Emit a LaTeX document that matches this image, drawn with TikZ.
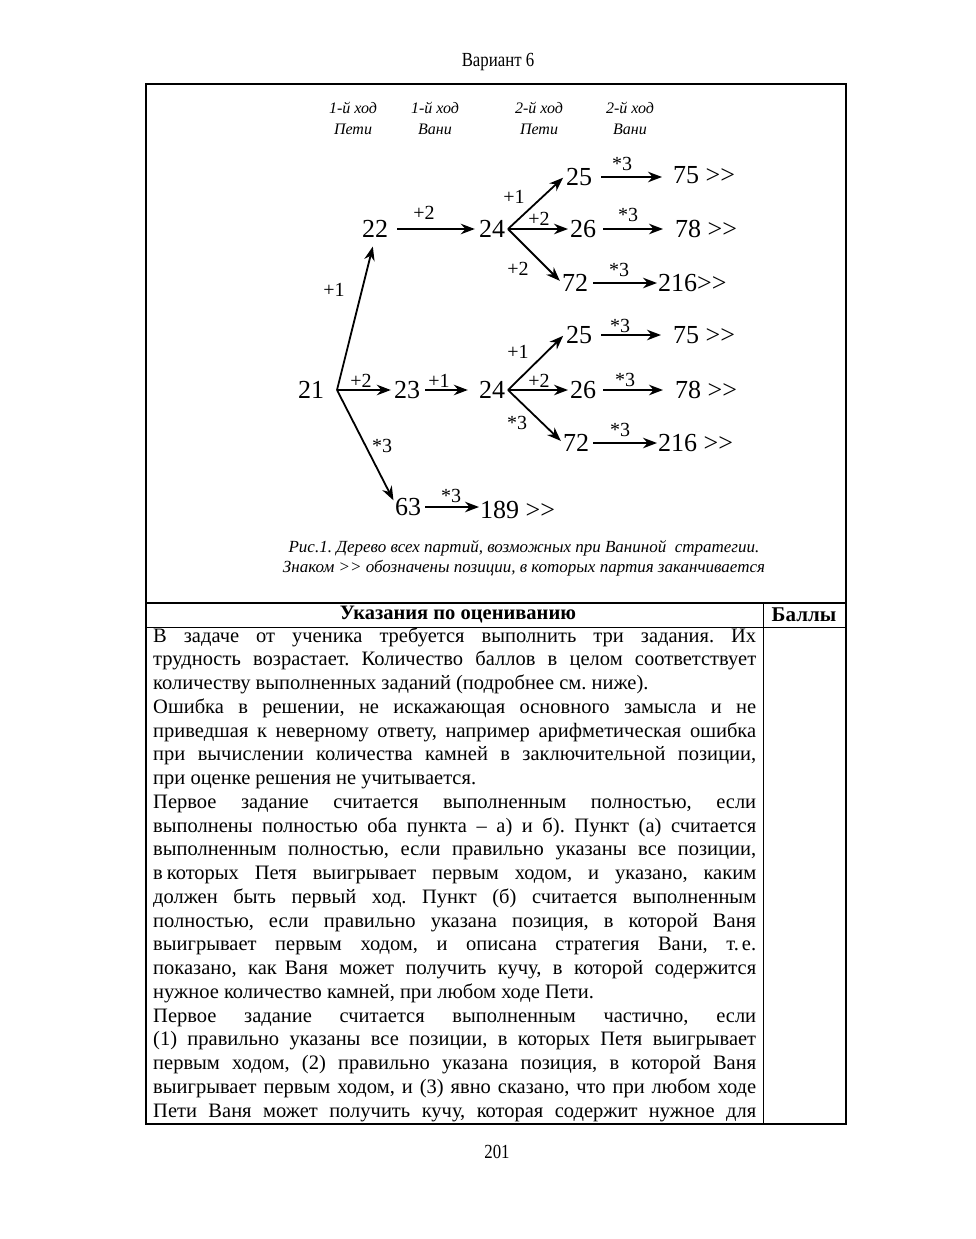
\documentclass[tikz,border=0pt]{standalone}
\usepackage{fontspec}
\setmainfont{Liberation Serif}
\newfontfamily\cond[FakeStretch=0.84]{Liberation Serif}
\usetikzlibrary{arrows.meta}
\newcommand\jline[1]{\makebox[603pt][s]{#1}}
\newcommand\finmark{>\kern0pt>}
\frenchspacing
\begin{document}
\begin{tikzpicture}[x=1pt,y=-1pt,
 num/.style={inner sep=0pt, font=\fontsize{26}{26}\selectfont},
 numw/.style={num, anchor=west},
 lab/.style={inner sep=0pt, font=\fontsize{20}{20}\selectfont},
 hdr/.style={inner sep=0pt, align=center, font=\itshape\fontsize{16}{21}\selectfont},
 arr/.style={-{Stealth[length=14pt,width=10.5pt]}, line width=1.8pt},
 txt/.style={inner sep=0pt, anchor=base west, font=\fontsize{20.5}{24}\selectfont},
 frame/.style={line width=1.2pt}
]
\useasboundingbox[fill=white] (0,0) rectangle (975,1239);

% page header / footer
\node[inner sep=0pt, font=\cond\fontsize{20}{20}\selectfont] (var) at (498,62) {Вариант 6};
\node[inner sep=0pt, font=\cond\fontsize{20}{20}\selectfont] (pg) at (497,1152) {201};

% frame
\draw[frame] (146,84) rectangle (846,1124);
\draw[frame] (146,603) -- (846,603);
\draw[line width=0.8pt] (146,627) -- (846,627);
\draw[line width=0.8pt] (763,603) -- (763,1124);

% column headers of the tree
\node[hdr] (h1) at (353,118) {1-й ход\\Пети};
\node[hdr] (h2) at (435,118) {1-й ход\\Вани};
\node[hdr] (h3) at (539,118) {2-й ход\\Пети};
\node[hdr] (h4) at (630,118) {2-й ход\\Вани};

% tree nodes
\node[num] (n21) at (311,390) {21};
\coordinate (v21) at (337,390);
\node[num] (n22) at (375,229) {22};
\node[num] (n23) at (407,390) {23};
\node[num] (n24a) at (492,229) {24};
\node[num] (n24b) at (492,390) {24};
\coordinate (v24a) at (508,229);
\coordinate (v24b) at (508,390);
\node[numw] (n25a) at (566,177) {25};
\node[numw] (n26a) at (570,229) {26};
\node[numw] (n72a) at (562,283) {72};
\node[numw] (n75a) at (673,175) {75 \finmark};
\node[numw] (n78a) at (675,229) {78 \finmark};
\node[numw] (n216a) at (658,283) {216\finmark};
\node[numw] (n25b) at (566,335) {25};
\node[numw] (n26b) at (570,390) {26};
\node[numw] (n72b) at (563,443) {72};
\node[numw] (n75b) at (673,335) {75 \finmark};
\node[numw] (n78b) at (675,390) {78 \finmark};
\node[numw] (n216b) at (658,443) {216 \finmark};
\node[num] (n63) at (408,507) {63};
\node[numw] (n189) at (480,510) {189 \finmark};

% arrows
\draw[arr, shorten >=9pt] (v21) -- (n22.south);
\draw[arr, shorten >=3pt] (v21) -- (n23.west);
\draw[arr, shorten >=3pt] (v21) -- ([yshift=4pt]n63.west);
\draw[arr, shorten <=9pt, shorten >=4pt] (n22.east) -- (n24a.west);
\draw[arr, shorten <=5pt, shorten >=11pt] (n23.east) -- (n24b.west);
\draw[arr, shorten >=4pt] (v24a) -- ([yshift=2pt]n25a.west);
\draw[arr, shorten >=2pt] (v24a) -- (n26a.west);
\draw[arr, shorten >=3pt] (v24a) -- (n72a.west);
\draw[arr, shorten >=4pt] (v24b) -- ([yshift=2pt]n25b.west);
\draw[arr, shorten >=2pt] (v24b) -- (n26b.west);
\draw[arr, shorten >=3pt] (v24b) -- (n72b.west);
\draw[arr, shorten <=9pt, shorten >=11pt] (n25a.east) -- (n75a.west |- n25a.east);
\draw[arr, shorten <=7pt, shorten >=12pt] (n26a.east) -- (n78a.west);
\draw[arr, shorten <=5pt, shorten >=1pt] (n72a.east) -- (n216a.west);
\draw[arr, shorten <=9pt, shorten >=12pt] (n25b.east) -- (n75b.west |- n25b.east);
\draw[arr, shorten <=7pt, shorten >=12pt] (n26b.east) -- (n78b.west);
\draw[arr, shorten <=4pt, shorten >=1pt] (n72b.east) -- (n216b.west);
\draw[arr, shorten <=4pt, shorten >=1pt] (n63.east) -- (n189.west |- n63.east);

% arrow labels
\node[lab] (a1) at (334,290) {+1};
\node[lab] (a2) at (361,381) {+2};
\node[lab] (a3) at (382,446) {*3};
\node[lab] (a4) at (424,213) {+2};
\node[lab] (a5) at (439,381) {+1};
\node[lab] (a6) at (514,197) {+1};
\node[lab] (a7) at (539,219) {+2};
\node[lab] (a8) at (518,269) {+2};
\node[lab] (a9) at (622,164) {*3};
\node[lab] (a10) at (628,215) {*3};
\node[lab] (a11) at (619,270) {*3};
\node[lab] (a12) at (518,352) {+1};
\node[lab] (a13) at (539,381) {+2};
\node[lab] (a14) at (517,423) {*3};
\node[lab] (a15) at (620,326) {*3};
\node[lab] (a16) at (625,380) {*3};
\node[lab] (a17) at (620,430) {*3};
\node[lab] (a18) at (451,496) {*3};

% caption
\node[inner sep=0pt, align=center, font=\itshape\fontsize{17}{20}\selectfont] (cap) at (524,558)
 {Рис.1. Дерево всех партий, возможных при Ваниной\ \ стратегии.\\
  Знаком \finmark{} обозначены позиции, в которых партия заканчивается};

% table header
\node[inner sep=0pt, font=\bfseries\fontsize{20.5}{20}\selectfont] (th1) at (458,615) {Указания по оцениванию};
\node[inner sep=0pt, font=\bfseries\fontsize{21}{20}\selectfont] (th2) at (804,615) {Баллы};

% table text
\node[txt] (l1) at (153,642) {\jline{В задаче от ученика требуется выполнить три задания. Их}};
\node[txt] (l2) at (153,665.75) {\jline{трудность возрастает. Количество баллов в целом соответствует}};
\node[txt] (l3) at (153,689.5) {количеству выполненных заданий (подробнее см. ниже).};
\node[txt] (l4) at (153,713.25) {\jline{Ошибка в решении, не искажающая основного замысла и не}};
\node[txt] (l5) at (153,737) {\jline{приведшая к неверному ответу, например арифметическая ошибка}};
\node[txt] (l6) at (153,760.75) {\jline{при вычислении количества камней в заключительной позиции,}};
\node[txt] (l7) at (153,784.5) {при оценке решения не учитывается.};
\node[txt] (l8) at (153,808.25) {\jline{Первое задание считается выполненным полностью, если}};
\node[txt] (l9) at (153,832) {\jline{выполнены полностью оба пункта – а) и б). Пункт (а) считается}};
\node[txt] (l10) at (153,855.75) {\jline{выполненным полностью, если правильно указаны все позиции,}};
\node[txt] (l11) at (153,879.5) {\jline{в\hspace{4pt}которых Петя выигрывает первым ходом, и указано, каким}};
\node[txt] (l12) at (153,903.25) {\jline{должен быть первый ход. Пункт (б) считается выполненным}};
\node[txt] (l13) at (153,927) {\jline{полностью, если правильно указана позиция, в которой Ваня}};
\node[txt] (l14) at (153,950.75) {\jline{выигрывает первым ходом, и описана стратегия Вани, т.\hspace{3pt}е.}};
\node[txt] (l15) at (153,974.5) {\jline{показано, как\hspace{8pt}Ваня может получить кучу, в которой содержится}};
\node[txt] (l16) at (153,998.25) {нужное количество камней, при любом ходе Пети.};
\node[txt] (l17) at (153,1022) {\jline{Первое задание считается выполненным частично, если}};
\node[txt] (l18) at (153,1045.75) {\jline{(1) правильно указаны все позиции, в которых Петя выигрывает}};
\node[txt] (l19) at (153,1069.5) {\jline{первым ходом, (2) правильно указана позиция, в которой Ваня}};
\node[txt] (l20) at (153,1093.25) {\jline{выигрывает первым ходом, и (3) явно сказано, что при любом ходе}};
\node[txt] (l21) at (153,1117) {\jline{Пети Ваня может получить кучу, которая содержит нужное для}};
\end{tikzpicture}
\end{document}
